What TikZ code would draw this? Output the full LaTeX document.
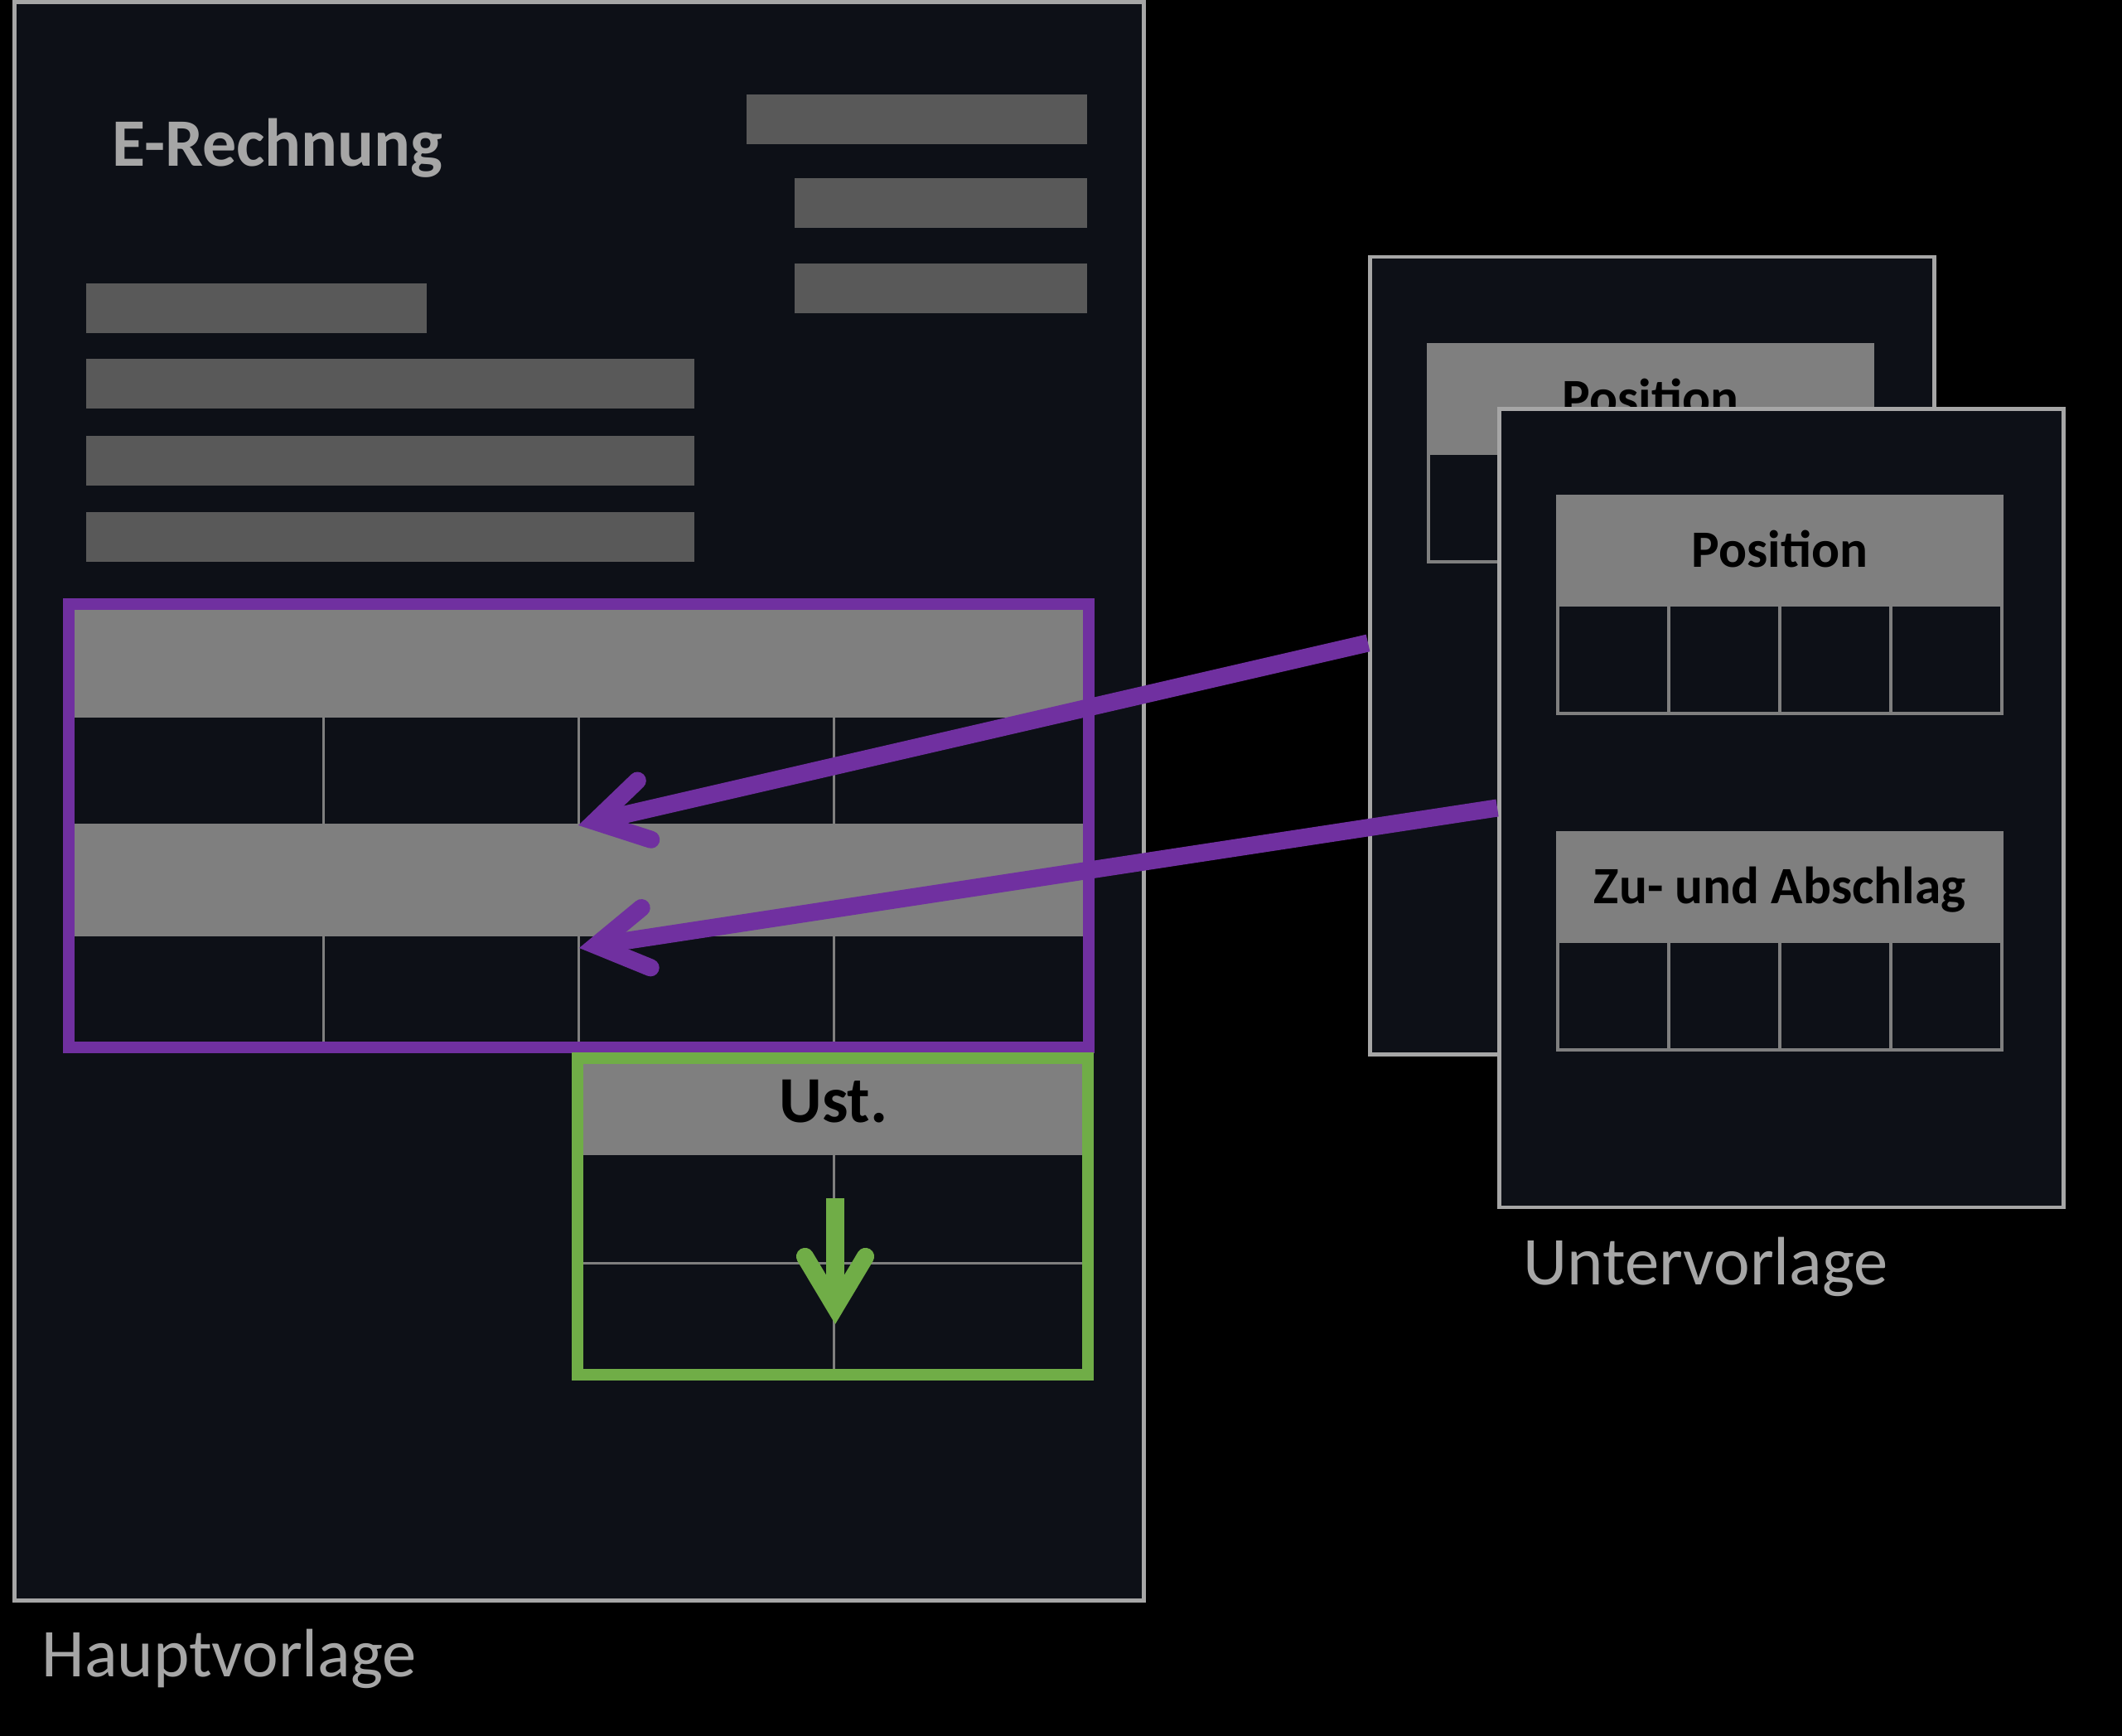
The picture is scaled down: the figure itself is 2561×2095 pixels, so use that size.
\documentclass[tikz,border=0pt]{standalone}
\usepackage{fontspec}
\setmainfont{Carlito}
\usetikzlibrary{arrows.meta}
\definecolor{pagebg}{HTML}{0D1017}
\definecolor{pageline}{HTML}{A6A6A6}
\definecolor{barfill}{HTML}{595959}
\definecolor{headgrey}{HTML}{7F7F7F}
\definecolor{posviolet}{HTML}{7030A0}
\definecolor{ustgreen}{HTML}{70AD47}
\tikzset{
    docpage/.style={draw=pageline, fill=pagebg, line width=1.3pt, inner sep=0},
    greybar/.style={fill=barfill, inner sep=0, anchor=north west, minimum height=0.6cm},
    tabhead/.style={fill=headgrey, draw=headgrey, line width=1.1pt, inner sep=0, anchor=north west,
        minimum width=5.36cm, minimum height=1.31cm, text=black,
        font=\bfseries\fontsize{18}{20}\selectfont, text height=11.3pt, text depth=0pt},
    tabcell/.style={draw=headgrey, fill=pagebg, line width=1.1pt, inner sep=0, anchor=north west,
        minimum width=1.34cm, minimum height=1.31cm},
    gridline/.style={draw=headgrey, line width=0.85pt},
    posframe/.style={draw=posviolet, line width=4pt},
    ustframe/.style={draw=ustgreen, line width=4pt},
    posarrow/.style={-{Straight Barb[length=0.61cm, width=0.73cm, line cap=round, line join=miter]}, draw=posviolet, line width=6pt},
    ustarrow/.style={-{Straight Barb[length=0.61cm, width=0.73cm, line cap=round, line join=miter]}, draw=ustgreen, line width=6pt},
    vorlage/.style={inner sep=0, anchor=base west, text=pageline, font=\fontsize{23.5}{26}\selectfont},
}
\begin{document}
\begin{tikzpicture}[x=0.01cm, y=-0.01cm]
    \useasboundingbox (0,0) rectangle (2561,2095);
    \fill[black] (0,0) rectangle (2561,2095);

    % Hauptvorlage
    \node[docpage, minimum width=13.62cm, minimum height=19.28cm] (haupt) at (699,967) {};
    \node[inner sep=0, anchor=base west, text=pageline, font=\bfseries\fontsize{23.3}{26}\selectfont] (titel) at (135,201) {E-Rechnung};
    \node[greybar, minimum width=4.11cm] (kopf1) at (900,113) {};
    \node[greybar, minimum width=3.53cm] (kopf2) at (958,214) {};
    \node[greybar, minimum width=3.53cm] (kopf3) at (958,317) {};
    \node[greybar, minimum width=4.11cm] (adr1) at (103,341) {};
    \node[greybar, minimum width=7.34cm] (adr2) at (103,432) {};
    \node[greybar, minimum width=7.34cm] (adr3) at (103,525) {};
    \node[greybar, minimum width=7.34cm] (adr4) at (103,617) {};

    % Positionen
    \fill[headgrey] (83,729) rectangle (1314,866);
    \fill[headgrey] (83,994) rectangle (1314,1130);
    \foreach \x in {390,698,1006} {
        \draw[gridline] (\x,866) -- (\x,994);
        \draw[gridline] (\x,1130) -- (\x,1264);
    }
    \draw[posframe] (83,729) rectangle (1314,1264);

    % Ust.
    \fill[headgrey] (697,1277) rectangle (1313,1394);
    \draw[gridline] (1006,1394) -- (1006,1659);
    \draw[gridline] (697,1524) -- (1313,1524);
    \draw[ustframe] (697,1277) rectangle (1313,1659);
    \node[inner sep=0, anchor=base, text=black, font=\bfseries\fontsize{22.5}{26}\selectfont] (ust) at (1006,1354) {Ust.};

    % Untervorlagen
    \node[docpage, minimum width=6.81cm, minimum height=9.62cm] (hinten) at (1994,791.5) {};
    \node[tabhead] (posh) at (1722,414) {Position};
    \foreach \i in {0,...,3}
        \node[tabcell] at (1722+134*\i,545) {};
    \node[docpage, minimum width=6.81cm, minimum height=9.63cm] (vorne) at (2150,975) {};
    \node[tabhead] (posv) at (1878,597) {Position};
    \foreach \i in {0,...,3}
        \node[tabcell] at (1878+134*\i,728) {};
    \node[tabhead] (zuab) at (1878,1003) {Zu- und Abschlag};
    \foreach \i in {0,...,3}
        \node[tabcell] at (1878+134*\i,1134) {};

    \node[vorlage] (hv) at (50,2023) {Hauptvorlage};
    \node[vorlage] (uv) at (1838,1550) {Untervorlage};

    % Pfeile
    \coordinate (ziel1) at (698,996);
    \coordinate (ziel2) at (699,1144);
    \coordinate (ustoben) at (1008,1446);
    \coordinate (ustunten) at (1008,1598);
    \draw[posarrow] ([yshift=0.155cm]hinten.west) -- (ziel1);
    \draw[posarrow] (vorne.west) -- (ziel2);
    \draw[ustarrow] (ustoben) -- (ustunten);
\end{tikzpicture}
\end{document}
